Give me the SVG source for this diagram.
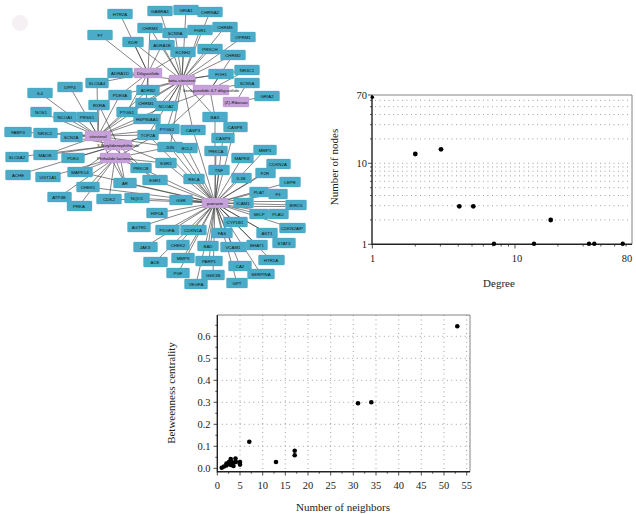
<svg xmlns="http://www.w3.org/2000/svg" width="636" height="514" viewBox="0 0 636 514">
<style>
.e line{stroke:#333;stroke-width:0.6}
.b rect{fill:#4aacc8;stroke:#3f9dba;stroke-width:0.3}
.p rect{fill:#c7a1d9;stroke:#b08cc4;stroke-width:0.3}
.nt{font-family:"Liberation Sans",Arial,sans-serif;font-size:4.4px;fill:#111;text-anchor:middle}
.g{stroke:#7a7a7a;stroke-width:0.8;stroke-dasharray:0.9 3.6;fill:none}
.ax{stroke:#222;stroke-width:1.4;fill:none}
.fr{stroke:#666;stroke-width:0.8;fill:none}
.tk{stroke:#222;stroke-width:0.8}
.tl{font-family:"Liberation Serif","Times New Roman",serif;font-size:10.5px;fill:#222}
.lb{font-family:"Liberation Serif","Times New Roman",serif;font-size:11px;fill:#222;text-anchor:middle}
.d{fill:#000}
</style>
<rect width="636" height="514" fill="#fff"/>
<circle cx="20" cy="23" r="8" fill="#f4f0f4"/>
<g id="network">
<g class="e" id="connectors">
<line x1="148" y1="73" x2="120" y2="14"/><line x1="148" y1="73" x2="150" y2="28"/><line x1="148" y1="73" x2="100" y2="35"/><line x1="148" y1="73" x2="133" y2="42"/><line x1="148" y1="73" x2="162" y2="45"/><line x1="148" y1="73" x2="183" y2="52"/><line x1="148" y1="73" x2="120" y2="73"/><line x1="148" y1="73" x2="97" y2="83"/><line x1="148" y1="73" x2="148" y2="90"/><line x1="148" y1="73" x2="120" y2="95"/><line x1="148" y1="73" x2="127" y2="112"/><line x1="148" y1="73" x2="146" y2="103"/>
<line x1="182" y1="80" x2="160" y2="11"/><line x1="182" y1="80" x2="186" y2="10"/><line x1="182" y1="80" x2="210" y2="12"/><line x1="182" y1="80" x2="150" y2="28"/><line x1="182" y1="80" x2="175" y2="33"/><line x1="182" y1="80" x2="200" y2="30"/><line x1="182" y1="80" x2="225" y2="27"/><line x1="182" y1="80" x2="243" y2="37"/><line x1="182" y1="80" x2="133" y2="42"/><line x1="182" y1="80" x2="162" y2="45"/><line x1="182" y1="80" x2="183" y2="52"/><line x1="182" y1="80" x2="210" y2="49"/><line x1="182" y1="80" x2="233" y2="55"/><line x1="182" y1="80" x2="120" y2="73"/><line x1="182" y1="80" x2="148" y2="90"/><line x1="182" y1="80" x2="120" y2="95"/><line x1="182" y1="80" x2="221" y2="74"/><line x1="182" y1="80" x2="247" y2="70"/><line x1="182" y1="80" x2="127" y2="112"/><line x1="182" y1="80" x2="146" y2="103"/><line x1="182" y1="80" x2="147" y2="119"/><line x1="182" y1="80" x2="166" y2="106"/><line x1="182" y1="80" x2="167" y2="129"/><line x1="182" y1="80" x2="215" y2="117"/><line x1="182" y1="80" x2="148" y2="135"/><line x1="182" y1="80" x2="170" y2="147"/><line x1="182" y1="80" x2="193" y2="130"/>
<line x1="210" y1="90" x2="221" y2="74"/><line x1="210" y1="90" x2="247" y2="83"/><line x1="210" y1="90" x2="247" y2="70"/><line x1="210" y1="90" x2="215" y2="117"/><line x1="210" y1="90" x2="167" y2="129"/><line x1="210" y1="90" x2="166" y2="106"/><line x1="210" y1="90" x2="233" y2="55"/>
<line x1="236" y1="102" x2="267" y2="96"/><line x1="236" y1="102" x2="247" y2="83"/>
<line x1="98" y1="136" x2="97" y2="83"/><line x1="98" y1="136" x2="70" y2="87"/><line x1="98" y1="136" x2="40" y2="93"/><line x1="98" y1="136" x2="99" y2="105"/><line x1="98" y1="136" x2="41" y2="112"/><line x1="98" y1="136" x2="65" y2="117"/><line x1="98" y1="136" x2="87" y2="117"/><line x1="98" y1="136" x2="127" y2="112"/><line x1="98" y1="136" x2="147" y2="119"/><line x1="98" y1="136" x2="166" y2="106"/><line x1="98" y1="136" x2="18" y2="132"/><line x1="98" y1="136" x2="45" y2="133"/><line x1="98" y1="136" x2="71" y2="137"/><line x1="98" y1="136" x2="148" y2="135"/><line x1="98" y1="136" x2="167" y2="129"/><line x1="98" y1="136" x2="170" y2="147"/><line x1="98" y1="136" x2="45" y2="155"/><line x1="98" y1="136" x2="125" y2="183"/><line x1="98" y1="136" x2="166" y2="163"/><line x1="98" y1="136" x2="155" y2="180"/><line x1="98" y1="136" x2="148" y2="90"/><line x1="98" y1="136" x2="120" y2="95"/><line x1="98" y1="136" x2="146" y2="103"/>
<line x1="118" y1="145" x2="99" y2="105"/><line x1="118" y1="145" x2="71" y2="137"/><line x1="118" y1="145" x2="17" y2="157"/><line x1="118" y1="145" x2="45" y2="155"/><line x1="118" y1="145" x2="73" y2="158"/><line x1="118" y1="145" x2="18" y2="175"/><line x1="118" y1="145" x2="167" y2="129"/><line x1="118" y1="145" x2="148" y2="135"/><line x1="118" y1="145" x2="155" y2="180"/><line x1="118" y1="145" x2="125" y2="183"/><line x1="118" y1="145" x2="80" y2="172"/>
<line x1="115" y1="158" x2="48" y2="177"/><line x1="115" y1="158" x2="80" y2="172"/><line x1="115" y1="158" x2="88" y2="187"/><line x1="115" y1="158" x2="125" y2="183"/><line x1="115" y1="158" x2="141" y2="168"/><line x1="115" y1="158" x2="59" y2="197"/><line x1="115" y1="158" x2="79" y2="206"/><line x1="115" y1="158" x2="109" y2="199"/><line x1="115" y1="158" x2="166" y2="163"/><line x1="115" y1="158" x2="167" y2="129"/><line x1="115" y1="158" x2="170" y2="147"/>
<line x1="215" y1="203" x2="148" y2="135"/><line x1="215" y1="203" x2="167" y2="129"/><line x1="215" y1="203" x2="170" y2="147"/><line x1="215" y1="203" x2="187" y2="148"/><line x1="215" y1="203" x2="193" y2="130"/><line x1="215" y1="203" x2="215" y2="117"/><line x1="215" y1="203" x2="235" y2="127"/><line x1="215" y1="203" x2="223" y2="138"/><line x1="215" y1="203" x2="216" y2="151"/><line x1="215" y1="203" x2="80" y2="172"/><line x1="215" y1="203" x2="125" y2="183"/><line x1="215" y1="203" x2="141" y2="168"/><line x1="215" y1="203" x2="166" y2="163"/><line x1="215" y1="203" x2="155" y2="180"/><line x1="215" y1="203" x2="109" y2="199"/><line x1="215" y1="203" x2="137" y2="198"/><line x1="215" y1="203" x2="181" y2="200"/><line x1="215" y1="203" x2="157" y2="213"/><line x1="215" y1="203" x2="139" y2="227"/><line x1="215" y1="203" x2="145" y2="247"/><line x1="215" y1="203" x2="155" y2="262"/><line x1="215" y1="203" x2="167" y2="230"/><line x1="215" y1="203" x2="193" y2="230"/><line x1="215" y1="203" x2="178" y2="245"/><line x1="215" y1="203" x2="183" y2="258"/><line x1="215" y1="203" x2="178" y2="273"/><line x1="215" y1="203" x2="196" y2="284"/><line x1="215" y1="203" x2="213" y2="275"/><line x1="215" y1="203" x2="209" y2="261"/><line x1="215" y1="203" x2="208" y2="246"/><line x1="215" y1="203" x2="222" y2="233"/><line x1="215" y1="203" x2="233" y2="247"/><line x1="215" y1="203" x2="240" y2="266"/><line x1="215" y1="203" x2="237" y2="283"/><line x1="215" y1="203" x2="235" y2="222"/><line x1="215" y1="203" x2="243" y2="203"/><line x1="215" y1="203" x2="194" y2="179"/><line x1="215" y1="203" x2="219" y2="170"/><line x1="215" y1="203" x2="241" y2="178"/><line x1="215" y1="203" x2="242" y2="158"/><line x1="215" y1="203" x2="265" y2="150"/><line x1="215" y1="203" x2="278" y2="164"/><line x1="215" y1="203" x2="265" y2="173"/><line x1="215" y1="203" x2="290" y2="182"/><line x1="215" y1="203" x2="259" y2="192"/><line x1="215" y1="203" x2="278" y2="194"/><line x1="215" y1="203" x2="295" y2="205"/><line x1="215" y1="203" x2="259" y2="214"/><line x1="215" y1="203" x2="278" y2="214"/><line x1="215" y1="203" x2="267" y2="233"/><line x1="215" y1="203" x2="292" y2="228"/><line x1="215" y1="203" x2="284" y2="243"/><line x1="215" y1="203" x2="257" y2="245"/><line x1="215" y1="203" x2="271" y2="260"/><line x1="215" y1="203" x2="261" y2="274"/><line x1="215" y1="203" x2="88" y2="187"/>
<line x1="254" y1="201.5" x2="285" y2="201.5"/><line x1="254" y1="206.5" x2="285" y2="206.5"/>
</g>
<g id="n-HTR2A" class="b"><rect x="107.5" y="9" width="25" height="10" rx="1"/><text class="nt" x="120" y="15.5">HTR2A</text></g>
<g id="n-GABRA1" class="b"><rect x="147.5" y="6" width="25" height="10" rx="1"/><text class="nt" x="160" y="12.5">GABRA1</text></g>
<g id="n-GRIA1" class="b"><rect x="173.5" y="5" width="25" height="10" rx="1"/><text class="nt" x="186" y="11.5">GRIA1</text></g>
<g id="n-CHRNA2" class="b"><rect x="197.5" y="7" width="25" height="10" rx="1"/><text class="nt" x="210" y="13.5">CHRNA2</text></g>
<g id="n-CHRM3" class="b"><rect x="137.5" y="23" width="25" height="10" rx="1"/><text class="nt" x="150" y="29.5">CHRM3</text></g>
<g id="n-SCN9A" class="b"><rect x="162.5" y="28" width="25" height="10" rx="1"/><text class="nt" x="175" y="34.5">SCN9A</text></g>
<g id="n-FGR1" class="b"><rect x="187.5" y="25" width="25" height="10" rx="1"/><text class="nt" x="200" y="31.5">FGR1</text></g>
<g id="n-CHRM5" class="b"><rect x="212.5" y="22" width="25" height="10" rx="1"/><text class="nt" x="225" y="28.5">CHRM5</text></g>
<g id="n-OPRM1" class="b"><rect x="230.5" y="32" width="25" height="10" rx="1"/><text class="nt" x="243" y="38.5">OPRM1</text></g>
<g id="n-F7" class="b"><rect x="87.5" y="30" width="25" height="10" rx="1"/><text class="nt" x="100" y="36.5">F7</text></g>
<g id="n-KDR" class="b"><rect x="122.5" y="37" width="21" height="10" rx="1"/><text class="nt" x="133" y="43.5">KDR</text></g>
<g id="n-ADRA1B" class="b"><rect x="149.5" y="40" width="25" height="10" rx="1"/><text class="nt" x="162" y="46.5">ADRA1B</text></g>
<g id="n-KCNH2" class="b"><rect x="170.5" y="47" width="25" height="10" rx="1"/><text class="nt" x="183" y="53.5">KCNH2</text></g>
<g id="n-PRKCH" class="b"><rect x="197.5" y="44" width="25" height="10" rx="1"/><text class="nt" x="210" y="50.5">PRKCH</text></g>
<g id="n-CHRM2" class="b"><rect x="220.5" y="50" width="25" height="10" rx="1"/><text class="nt" x="233" y="56.5">CHRM2</text></g>
<g id="n-ADRA1D" class="b"><rect x="107.5" y="68" width="25" height="10" rx="1"/><text class="nt" x="120" y="74.5">ADRA1D</text></g>
<g id="n-SLC6A4" class="b"><rect x="85.5" y="78" width="23" height="10" rx="1"/><text class="nt" x="97" y="84.5">SLC6A4</text></g>
<g id="n-DPP4" class="b"><rect x="57.5" y="82" width="25" height="10" rx="1"/><text class="nt" x="70" y="88.5">DPP4</text></g>
<g id="n-IL4" class="b"><rect x="27.5" y="88" width="25" height="10" rx="1"/><text class="nt" x="40" y="94.5">IL4</text></g>
<g id="n-ADRB2" class="b"><rect x="136.5" y="85" width="23" height="10" rx="1"/><text class="nt" x="148" y="91.5">ADRB2</text></g>
<g id="n-PDE3A" class="b"><rect x="108.5" y="90" width="23" height="10" rx="1"/><text class="nt" x="120" y="96.5">PDE3A</text></g>
<g id="n-FOH1" class="b"><rect x="208.5" y="69" width="25" height="10" rx="1"/><text class="nt" x="221" y="75.5">FOH1</text></g>
<g id="n-NR3C1" class="b"><rect x="234.5" y="65" width="25" height="10" rx="1"/><text class="nt" x="247" y="71.5">NR3C1</text></g>
<g id="n-SCN5A" class="b"><rect x="234.5" y="78" width="25" height="10" rx="1"/><text class="nt" x="247" y="84.5">SCN5A</text></g>
<g id="n-GRIA2" class="b"><rect x="254.5" y="91" width="25" height="10" rx="1"/><text class="nt" x="267" y="97.5">GRIA2</text></g>
<g id="n-RXRA" class="b"><rect x="88.5" y="100" width="21" height="10" rx="1"/><text class="nt" x="99" y="106.5">RXRA</text></g>
<g id="n-NOS1" class="b"><rect x="30.5" y="107" width="21" height="10" rx="1"/><text class="nt" x="41" y="113.5">NOS1</text></g>
<g id="n-NCOA1" class="b"><rect x="53.5" y="112" width="23" height="10" rx="1"/><text class="nt" x="65" y="118.5">NCOA1</text></g>
<g id="n-PRSS1" class="b"><rect x="76.5" y="112" width="21" height="10" rx="1"/><text class="nt" x="87" y="118.5">PRSS1</text></g>
<g id="n-PTGS1" class="b"><rect x="116.5" y="107" width="21" height="10" rx="1"/><text class="nt" x="127" y="113.5">PTGS1</text></g>
<g id="n-CHRM1" class="b"><rect x="135.5" y="98" width="21" height="10" rx="1"/><text class="nt" x="146" y="104.5">CHRM1</text></g>
<g id="n-HSP90AA1" class="b"><rect x="133.5" y="114" width="27" height="10" rx="1"/><text class="nt" x="147" y="120.5">HSP90AA1</text></g>
<g id="n-NCOA2" class="b"><rect x="155.5" y="101" width="22" height="10" rx="1"/><text class="nt" x="166" y="107.5">NCOA2</text></g>
<g id="n-FABP4" class="b"><rect x="4.5" y="127" width="27" height="10" rx="1"/><text class="nt" x="18" y="133.5">FABP4</text></g>
<g id="n-NR3C2" class="b"><rect x="33.5" y="128" width="24" height="10" rx="1"/><text class="nt" x="45" y="134.5">NR3C2</text></g>
<g id="n-SCN2A" class="b"><rect x="60.5" y="132" width="22" height="10" rx="1"/><text class="nt" x="71" y="138.5">SCN2A</text></g>
<g id="n-TOP2A" class="b"><rect x="137.5" y="130" width="21" height="10" rx="1"/><text class="nt" x="148" y="136.5">TOP2A</text></g>
<g id="n-PTGS2" class="b"><rect x="155.5" y="124" width="24" height="10" rx="1"/><text class="nt" x="167" y="130.5">PTGS2</text></g>
<g id="n-JUN" class="b"><rect x="157.5" y="142" width="25" height="10" rx="1"/><text class="nt" x="170" y="148.5">JUN</text></g>
<g id="n-BCL2" class="b"><rect x="176.5" y="143" width="21" height="10" rx="1"/><text class="nt" x="187" y="149.5">BCL2</text></g>
<g id="n-CASP3" class="b"><rect x="180.5" y="125" width="25" height="10" rx="1"/><text class="nt" x="193" y="131.5">CASP3</text></g>
<g id="n-BAX" class="b"><rect x="202.5" y="112" width="25" height="10" rx="1"/><text class="nt" x="215" y="118.5">BAX</text></g>
<g id="n-CASP8" class="b"><rect x="223.5" y="122" width="24" height="10" rx="1"/><text class="nt" x="235" y="128.5">CASP8</text></g>
<g id="n-CASP9" class="b"><rect x="211.5" y="133" width="23" height="10" rx="1"/><text class="nt" x="223" y="139.5">CASP9</text></g>
<g id="n-PRKCA" class="b"><rect x="204.5" y="146" width="23" height="10" rx="1"/><text class="nt" x="216" y="152.5">PRKCA</text></g>
<g id="n-SLC6A2" class="b"><rect x="5.5" y="152" width="23" height="10" rx="1"/><text class="nt" x="17" y="158.5">SLC6A2</text></g>
<g id="n-MAOB" class="b"><rect x="33.5" y="150" width="24" height="10" rx="1"/><text class="nt" x="45" y="156.5">MAOB</text></g>
<g id="n-PDE4" class="b"><rect x="61.5" y="153" width="23" height="10" rx="1"/><text class="nt" x="73" y="159.5">PDE4</text></g>
<g id="n-ACHE" class="b"><rect x="5.5" y="170" width="25" height="10" rx="1"/><text class="nt" x="18" y="176.5">ACHE</text></g>
<g id="n-UGT1A1" class="b"><rect x="35.5" y="172" width="25" height="10" rx="1"/><text class="nt" x="48" y="178.5">UGT1A1</text></g>
<g id="n-MAPK14" class="b"><rect x="67.5" y="167" width="25" height="10" rx="1"/><text class="nt" x="80" y="173.5">MAPK14</text></g>
<g id="n-CHEK1" class="b"><rect x="76.5" y="182" width="23" height="10" rx="1"/><text class="nt" x="88" y="188.5">CHEK1</text></g>
<g id="n-AR" class="b"><rect x="113.5" y="178" width="23" height="10" rx="1"/><text class="nt" x="125" y="184.5">AR</text></g>
<g id="n-PRKCB" class="b"><rect x="130.5" y="163" width="21" height="10" rx="1"/><text class="nt" x="141" y="169.5">PRKCB</text></g>
<g id="n-ESR2" class="b"><rect x="155.5" y="158" width="21" height="10" rx="1"/><text class="nt" x="166" y="164.5">ESR2</text></g>
<g id="n-ESR1" class="b"><rect x="142.5" y="175" width="25" height="10" rx="1"/><text class="nt" x="155" y="181.5">ESR1</text></g>
<g id="n-ATP4B" class="b"><rect x="47.5" y="192" width="24" height="10" rx="1"/><text class="nt" x="59" y="198.5">ATP4B</text></g>
<g id="n-PRKA" class="b"><rect x="67" y="201" width="25" height="10" rx="1"/><text class="nt" x="79" y="207.5">PRKA</text></g>
<g id="n-CDK2" class="b"><rect x="96.5" y="194" width="25" height="10" rx="1"/><text class="nt" x="109" y="200.5">CDK2</text></g>
<g id="n-NQO1" class="b"><rect x="124.5" y="193" width="25" height="10" rx="1"/><text class="nt" x="137" y="199.5">NQO1</text></g>
<g id="n-GSR" class="b"><rect x="169.5" y="195" width="23" height="10" rx="1"/><text class="nt" x="181" y="201.5">GSR</text></g>
<g id="n-HIF1A" class="b"><rect x="146.5" y="208" width="21" height="10" rx="1"/><text class="nt" x="157" y="214.5">HIF1A</text></g>
<g id="n-AGTR1" class="b"><rect x="127.5" y="222" width="23" height="10" rx="1"/><text class="nt" x="139" y="228.5">AGTR1</text></g>
<g id="n-JAK3" class="b"><rect x="133.5" y="242" width="24" height="10" rx="1"/><text class="nt" x="145" y="248.5">JAK3</text></g>
<g id="n-ACE" class="b"><rect x="143.5" y="257" width="24" height="10" rx="1"/><text class="nt" x="155" y="263.5">ACE</text></g>
<g id="n-PDGFA" class="b"><rect x="155.5" y="225" width="24" height="10" rx="1"/><text class="nt" x="167" y="231.5">PDGFA</text></g>
<g id="n-CDKN1A" class="b"><rect x="180.5" y="225" width="26" height="10" rx="1"/><text class="nt" x="193" y="231.5">CDKN1A</text></g>
<g id="n-CHEK2" class="b"><rect x="166.5" y="240" width="23" height="10" rx="1"/><text class="nt" x="178" y="246.5">CHEK2</text></g>
<g id="n-MMP9" class="b"><rect x="171.5" y="253" width="23" height="10" rx="1"/><text class="nt" x="183" y="259.5">MMP9</text></g>
<g id="n-PGF" class="b"><rect x="166.5" y="268" width="23" height="10" rx="1"/><text class="nt" x="178" y="274.5">PGF</text></g>
<g id="n-VEGFA" class="b"><rect x="184.5" y="279" width="23" height="10" rx="1"/><text class="nt" x="196" y="285.5">VEGFA</text></g>
<g id="n-GSK3B" class="b"><rect x="201.5" y="270" width="23" height="10" rx="1"/><text class="nt" x="213" y="276.5">GSK3B</text></g>
<g id="n-PARP1" class="b"><rect x="195.5" y="256" width="27" height="10" rx="1"/><text class="nt" x="209" y="262.5">PARP1</text></g>
<g id="n-BAD" class="b"><rect x="197.5" y="241" width="21" height="10" rx="1"/><text class="nt" x="208" y="247.5">BAD</text></g>
<g id="n-FAS" class="b"><rect x="211.5" y="228" width="21" height="10" rx="1"/><text class="nt" x="222" y="234.5">FAS</text></g>
<g id="n-VCAM1" class="b"><rect x="220.5" y="242" width="26" height="10" rx="1"/><text class="nt" x="233" y="248.5">VCAM1</text></g>
<g id="n-CA2" class="b"><rect x="228.5" y="261" width="23" height="10" rx="1"/><text class="nt" x="240" y="267.5">CA2</text></g>
<g id="n-GPT" class="b"><rect x="226.5" y="278" width="21" height="10" rx="1"/><text class="nt" x="237" y="284.5">GPT</text></g>
<g id="n-CYP1B1" class="b"><rect x="223.5" y="217" width="24" height="10" rx="1"/><text class="nt" x="235" y="223.5">CYP1B1</text></g>
<g id="n-ICAM1" class="b"><rect x="233.5" y="198" width="20" height="10" rx="1"/><text class="nt" x="243" y="204.5">ICAM1</text></g>
<g id="n-RELA" class="b"><rect x="183.5" y="174" width="21" height="10" rx="1"/><text class="nt" x="194" y="180.5">RELA</text></g>
<g id="n-TNF" class="b"><rect x="208.5" y="165" width="21" height="10" rx="1"/><text class="nt" x="219" y="171.5">TNF</text></g>
<g id="n-IL1B" class="b"><rect x="231.5" y="173" width="20" height="10" rx="1"/><text class="nt" x="241" y="179.5">IL1B</text></g>
<g id="n-MAPK8" class="b"><rect x="231.5" y="153" width="22" height="10" rx="1"/><text class="nt" x="242" y="159.5">MAPK8</text></g>
<g id="n-MMP1" class="b"><rect x="253.5" y="145" width="23" height="10" rx="1"/><text class="nt" x="265" y="151.5">MMP1</text></g>
<g id="n-CDKN2A" class="b"><rect x="266.5" y="159" width="24" height="10" rx="1"/><text class="nt" x="278" y="165.5">CDKN2A</text></g>
<g id="n-F2R" class="b"><rect x="255.5" y="168" width="20" height="10" rx="1"/><text class="nt" x="265" y="174.5">F2R</text></g>
<g id="n-LEPR" class="b"><rect x="279.5" y="177" width="21" height="10" rx="1"/><text class="nt" x="290" y="183.5">LEPR</text></g>
<g id="n-PLAT" class="b"><rect x="249.5" y="187" width="19" height="10" rx="1"/><text class="nt" x="259" y="193.5">PLAT</text></g>
<g id="n-F3" class="b"><rect x="268.5" y="189" width="19" height="10" rx="1"/><text class="nt" x="278" y="195.5">F3</text></g>
<g id="n-BIRC5" class="b"><rect x="285.5" y="200" width="21" height="10" rx="1"/><text class="nt" x="296" y="206.5">BIRC5</text></g>
<g id="n-SELP" class="b"><rect x="249.5" y="209" width="19" height="10" rx="1"/><text class="nt" x="259" y="215.5">SELP</text></g>
<g id="n-PLAU" class="b"><rect x="268.5" y="209" width="20" height="10" rx="1"/><text class="nt" x="278" y="215.5">PLAU</text></g>
<g id="n-AKT1" class="b"><rect x="256.5" y="228" width="21" height="10" rx="1"/><text class="nt" x="267" y="234.5">AKT1</text></g>
<g id="n-CDKN2AIP" class="b"><rect x="279.5" y="223" width="26" height="10" rx="1"/><text class="nt" x="292" y="229.5">CDKN2AIP</text></g>
<g id="n-STAT3" class="b"><rect x="272.5" y="238" width="23" height="10" rx="1"/><text class="nt" x="284" y="244.5">STAT3</text></g>
<g id="n-BHAT1" class="b"><rect x="246.5" y="240" width="21" height="10" rx="1"/><text class="nt" x="257" y="246.5">BHAT1</text></g>
<g id="n-HTR1A" class="b"><rect x="258.5" y="255" width="26" height="10" rx="1"/><text class="nt" x="271" y="261.5">HTR1A</text></g>
<g id="n-SERPINA" class="b"><rect x="247.5" y="269" width="27" height="10" rx="1"/><text class="nt" x="261" y="275.5">SERPINA</text></g>
<g id="h-diligustilide" class="p"><rect x="134" y="68" width="28" height="10" rx="1"/><text class="nt" x="148" y="74.5">Diligustilide</text></g>
<g id="h-beta-sitosterol" class="p"><rect x="169" y="75" width="26" height="10" rx="1"/><text class="nt" x="182" y="81.5">beta-sitosterol</text></g>
<g id="h-diligustilide47" class="p"><rect x="193" y="85" width="36" height="10" rx="1"/><text class="nt" x="211" y="91.5">Senkyunolide 4,7 diligustilide</text></g>
<g id="h-ribosan" class="p"><rect x="223" y="97" width="26" height="10" rx="1"/><text class="nt" x="236" y="103.5">(Z)-Ribosan</text></g>
<g id="h-sitosterol" class="p"><rect x="85" y="131" width="26" height="10" rx="1"/><text class="nt" x="98" y="137.5">sitosterol</text></g>
<g id="h-butylidenephthalide" class="p"><rect x="104" y="140" width="28" height="10" rx="1"/><text class="nt" x="118" y="146.5">3-Butylidenephthalide</text></g>
<g id="h-phthalide" class="p"><rect x="100" y="153" width="30" height="10" rx="1"/><text class="nt" x="115" y="159.5">Phthalide lactones</text></g>
<g id="h-puerarin" class="p"><rect x="202" y="198" width="26" height="10" rx="1"/><text class="nt" x="215" y="204.5">puerarin</text></g>
</g>

<g id="degree-plot">
<g class="g">
<line x1="375" y1="219.9" x2="631" y2="219.9"/><line x1="375" y1="205.7" x2="631" y2="205.7"/><line x1="375" y1="195.5" x2="631" y2="195.5"/><line x1="375" y1="187.7" x2="631" y2="187.7"/><line x1="375" y1="181.3" x2="631" y2="181.3"/><line x1="375" y1="175.8" x2="631" y2="175.8"/><line x1="375" y1="171.2" x2="631" y2="171.2"/><line x1="375" y1="167" x2="631" y2="167"/><line x1="375" y1="163.3" x2="631" y2="163.3"/><line x1="375" y1="138.9" x2="631" y2="138.9"/><line x1="375" y1="124.7" x2="631" y2="124.7"/><line x1="375" y1="114.5" x2="631" y2="114.5"/><line x1="375" y1="106.7" x2="631" y2="106.7"/><line x1="375" y1="100.3" x2="631" y2="100.3"/>
</g>
<polyline class="fr" points="372,95 632,95 632,244.3"/>
<polyline class="ax" points="372,95 372,244.3 632,244.3"/>
<g class="tk">
<line x1="368" y1="95" x2="372" y2="95"/><line x1="368" y1="163.3" x2="372" y2="163.3"/><line x1="368" y1="244.3" x2="372" y2="244.3"/>
<line x1="370" y1="219.9" x2="372" y2="219.9"/><line x1="370" y1="205.7" x2="372" y2="205.7"/><line x1="370" y1="195.5" x2="372" y2="195.5"/><line x1="370" y1="187.7" x2="372" y2="187.7"/><line x1="370" y1="181.3" x2="372" y2="181.3"/><line x1="370" y1="175.8" x2="372" y2="175.8"/><line x1="370" y1="171.2" x2="372" y2="171.2"/><line x1="370" y1="167" x2="372" y2="167"/><line x1="370" y1="138.9" x2="372" y2="138.9"/><line x1="370" y1="124.7" x2="372" y2="124.7"/><line x1="370" y1="114.5" x2="372" y2="114.5"/><line x1="370" y1="106.7" x2="372" y2="106.7"/><line x1="370" y1="100.3" x2="372" y2="100.3"/>
<line x1="372.3" y1="244.3" x2="372.3" y2="248.5"/><line x1="415.3" y1="244.3" x2="415.3" y2="246.5"/><line x1="440.4" y1="244.3" x2="440.4" y2="246.5"/><line x1="458.2" y1="244.3" x2="458.2" y2="246.5"/><line x1="472" y1="244.3" x2="472" y2="246.5"/><line x1="483.3" y1="244.3" x2="483.3" y2="246.5"/><line x1="492.9" y1="244.3" x2="492.9" y2="246.5"/><line x1="501.2" y1="244.3" x2="501.2" y2="246.5"/><line x1="508.5" y1="244.3" x2="508.5" y2="246.5"/><line x1="515" y1="244.3" x2="515" y2="248.5"/><line x1="557.9" y1="244.3" x2="557.9" y2="246.5"/><line x1="583.1" y1="244.3" x2="583.1" y2="246.5"/><line x1="600.9" y1="244.3" x2="600.9" y2="246.5"/><line x1="614.7" y1="244.3" x2="614.7" y2="246.5"/><line x1="626.1" y1="244.3" x2="626.1" y2="246.5"/>
</g>
<g class="tl" text-anchor="end">
<text x="367" y="98.5">70</text><text x="367" y="166.8">10</text><text x="367" y="247.8">1</text>
</g>
<g class="tl" text-anchor="middle">
<text x="372.5" y="262">1</text><text x="517" y="262">10</text><text x="627" y="262">80</text>
</g>
<text class="lb" x="499" y="287">Degree</text>
<text class="lb" transform="translate(338,167) rotate(-90)">Number of nodes</text>
<g class="d">
<circle cx="372.3" cy="97.3" r="1.8"/><circle cx="415.3" cy="154" r="2.4"/><circle cx="441" cy="149.3" r="2.4"/><circle cx="459.3" cy="206.3" r="2.4"/><circle cx="473.3" cy="206.3" r="2.4"/><circle cx="494" cy="243.8" r="2.2"/><circle cx="534" cy="243.8" r="2.2"/><circle cx="550.7" cy="220" r="2.4"/><circle cx="589" cy="243.8" r="2.2"/><circle cx="594.3" cy="243.8" r="2.2"/><circle cx="622.7" cy="243.8" r="2.2"/>
</g>
</g>

<g id="betweenness-plot">
<g class="g">
<line x1="240" y1="315" x2="240" y2="471.7"/><line x1="262.7" y1="315" x2="262.7" y2="471.7"/><line x1="285.3" y1="315" x2="285.3" y2="471.7"/><line x1="308" y1="315" x2="308" y2="471.7"/><line x1="330.7" y1="315" x2="330.7" y2="471.7"/><line x1="353.3" y1="315" x2="353.3" y2="471.7"/><line x1="376" y1="315" x2="376" y2="471.7"/><line x1="398.7" y1="315" x2="398.7" y2="471.7"/><line x1="421.3" y1="315" x2="421.3" y2="471.7"/><line x1="444" y1="315" x2="444" y2="471.7"/><line x1="466.7" y1="315" x2="466.7" y2="471.7"/>
<line x1="217.3" y1="446.3" x2="470" y2="446.3"/><line x1="217.3" y1="424.3" x2="470" y2="424.3"/><line x1="217.3" y1="402.3" x2="470" y2="402.3"/><line x1="217.3" y1="380.3" x2="470" y2="380.3"/><line x1="217.3" y1="358.3" x2="470" y2="358.3"/><line x1="217.3" y1="336.3" x2="470" y2="336.3"/>
</g>
<polyline class="fr" points="217.3,315 470,315 470,471.7"/>
<polyline class="ax" points="217.3,315 217.3,471.7 470,471.7"/>
<g class="tk">
<line x1="213.5" y1="468.3" x2="217.3" y2="468.3"/><line x1="213.5" y1="446.3" x2="217.3" y2="446.3"/><line x1="213.5" y1="424.3" x2="217.3" y2="424.3"/><line x1="213.5" y1="402.3" x2="217.3" y2="402.3"/><line x1="213.5" y1="380.3" x2="217.3" y2="380.3"/><line x1="213.5" y1="358.3" x2="217.3" y2="358.3"/><line x1="213.5" y1="336.3" x2="217.3" y2="336.3"/>
<line x1="215.3" y1="457.3" x2="217.3" y2="457.3"/><line x1="215.3" y1="435.3" x2="217.3" y2="435.3"/><line x1="215.3" y1="413.3" x2="217.3" y2="413.3"/><line x1="215.3" y1="391.3" x2="217.3" y2="391.3"/><line x1="215.3" y1="369.3" x2="217.3" y2="369.3"/><line x1="215.3" y1="347.3" x2="217.3" y2="347.3"/><line x1="215.3" y1="325.3" x2="217.3" y2="325.3"/>
<line x1="217.3" y1="471.7" x2="217.3" y2="475.5"/><line x1="240" y1="471.7" x2="240" y2="475.5"/><line x1="262.7" y1="471.7" x2="262.7" y2="475.5"/><line x1="285.3" y1="471.7" x2="285.3" y2="475.5"/><line x1="308" y1="471.7" x2="308" y2="475.5"/><line x1="330.7" y1="471.7" x2="330.7" y2="475.5"/><line x1="353.3" y1="471.7" x2="353.3" y2="475.5"/><line x1="376" y1="471.7" x2="376" y2="475.5"/><line x1="398.7" y1="471.7" x2="398.7" y2="475.5"/><line x1="421.3" y1="471.7" x2="421.3" y2="475.5"/><line x1="444" y1="471.7" x2="444" y2="475.5"/><line x1="466.7" y1="471.7" x2="466.7" y2="475.5"/>
<line x1="228.6" y1="471.7" x2="228.6" y2="473.7"/><line x1="251.3" y1="471.7" x2="251.3" y2="473.7"/><line x1="274" y1="471.7" x2="274" y2="473.7"/><line x1="296.7" y1="471.7" x2="296.7" y2="473.7"/><line x1="319.3" y1="471.7" x2="319.3" y2="473.7"/><line x1="342" y1="471.7" x2="342" y2="473.7"/><line x1="364.7" y1="471.7" x2="364.7" y2="473.7"/><line x1="387.3" y1="471.7" x2="387.3" y2="473.7"/><line x1="410" y1="471.7" x2="410" y2="473.7"/><line x1="432.7" y1="471.7" x2="432.7" y2="473.7"/><line x1="455.3" y1="471.7" x2="455.3" y2="473.7"/>
</g>
<g class="tl" text-anchor="end">
<text x="210.5" y="472">0.0</text><text x="210.5" y="450">0.1</text><text x="210.5" y="428">0.2</text><text x="210.5" y="406">0.3</text><text x="210.5" y="384">0.4</text><text x="210.5" y="362">0.5</text><text x="210.5" y="340">0.6</text>
</g>
<g class="tl" text-anchor="middle">
<text x="217.3" y="489">0</text><text x="240" y="489">5</text><text x="262.7" y="489">10</text><text x="285.3" y="489">15</text><text x="308" y="489">20</text><text x="330.7" y="489">25</text><text x="353.3" y="489">30</text><text x="376" y="489">35</text><text x="398.7" y="489">40</text><text x="421.3" y="489">45</text><text x="444" y="489">50</text><text x="466.7" y="489">55</text>
</g>
<text class="lb" x="343" y="511">Number of neighbors</text>
<text class="lb" transform="translate(175,393) rotate(-90)">Betweenness centrality</text>
<g class="d">
<circle cx="457.3" cy="326.3" r="2.3"/><circle cx="358" cy="403.3" r="2.3"/><circle cx="371.3" cy="402.3" r="2.3"/><circle cx="249.3" cy="441.7" r="2.3"/><circle cx="294.7" cy="450.7" r="2.3"/><circle cx="294.7" cy="455.3" r="2.3"/><circle cx="276" cy="462" r="2.3"/>
<circle cx="240" cy="462" r="2.3"/><circle cx="240" cy="464.6" r="2.3"/><circle cx="235.5" cy="458.5" r="2.3"/><circle cx="230.7" cy="459" r="2.3"/><circle cx="236" cy="462" r="2.3"/><circle cx="221.7" cy="467.7" r="2.3"/><circle cx="224" cy="466.5" r="2.3"/><circle cx="226.5" cy="465.5" r="2.3"/><circle cx="226.5" cy="463.5" r="2.3"/><circle cx="229" cy="464" r="2.3"/><circle cx="229" cy="462" r="2.3"/><circle cx="231" cy="465" r="2.3"/><circle cx="231" cy="461.5" r="2.3"/><circle cx="233.5" cy="466" r="2.3"/><circle cx="233.5" cy="462.5" r="2.3"/>
</g>
</g>
</svg>
